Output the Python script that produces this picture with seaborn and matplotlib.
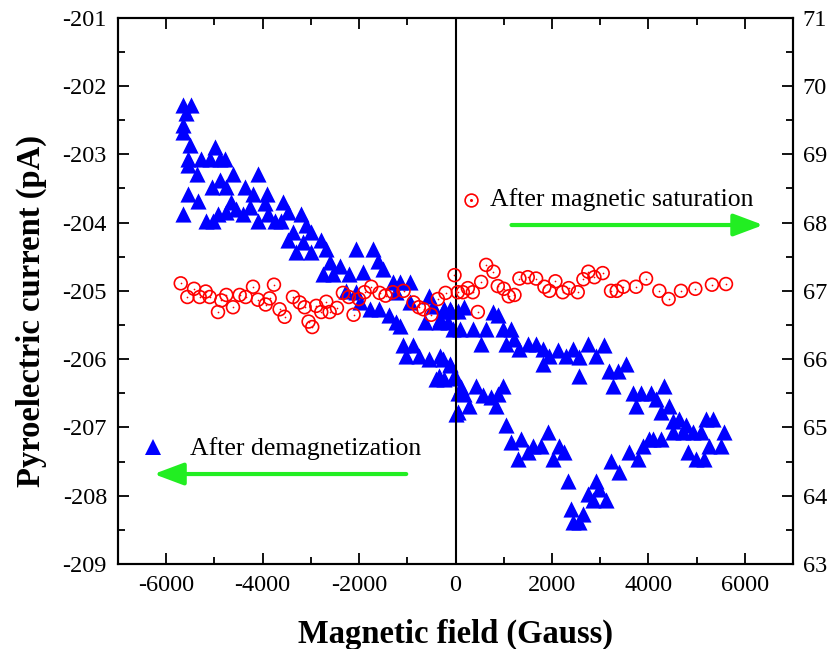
import matplotlib
matplotlib.use('Agg')
import matplotlib.pyplot as plt
import seaborn as sns
import pandas as pd
from matplotlib.ticker import MultipleLocator, FixedLocator
from matplotlib.patches import ArrowStyle

# ---- data: after demagnetization (left axis, pA) ----
blue_x = [-5650, -5480, -5600, -5650, -5650, -5510, -5550, -5550, -5370, -5270,
          -5100, -4995, -4890, -4790, -5060, -4890, -4750, -4615, -4100, -4370,
          -4200, -5550, -5340, -5650, -5170, -5030, -4930, -4750, -4650, -4550,
          -4410, -4270, -4100, -3920, -3960, -3890, -3750, -3580, -3475, -3610,
          -3475, -3370, -3300, -3200, -3100, -2990, -3160, -2990, -2780, -2680,
          -2610, -2750, -2540, -2400, -2200, -2060, -1920, -1710, -1610, -1510,
          -1300, -1160, -950, -1230, -950, -2270, -2060, -1990, -1780, -1580,
          -1370, -1160, -1230, -1090, -880, -1020, -750, -640, -540, -470,
          -330, -230, -120, -55, -540, -330, -120, -400, -230, -20,
          50, 15,
          -263, -90, 48, 186, -159, -332, 83, 359, 532, 635,
          774, 877, 981, 1154, 1050, 1223, 1326, 1499, 1672, 1810,
          1810, 1948, 2121, 2294, 2432, 2570, 2743, 2915, 3088, 2570,
          3192, 3364, 3537, 3261, 3675, 3848, 4055, 4159, 4331, 3744,
          4262, 4435, 4504, 4642, 4780, 4504, 4711, 4918, 5091, 5195,
          5333, 5574, 5264, 5505, 4815, 4987, 5160,
          -263, -124, -332, -55, 118, 428, 981, 186, 566, 739,
          877, 290, 843, 48, 1050, 1154, 1361, 1603, 1775, 1914,
          2155, 2259, 1292, 1499, 2017, 2328, 2915, 2743, 2984, 2846,
          3122, 2397, 2639, 2432, 2570, 3226, 3399, 3606, 3779, 3882,
          4020, 4262, 4090]
blue_y = [-202.28, -202.28, -202.39, -202.57, -202.68, -202.87, -203.07, -203.16, -203.29, -203.07,
          -203.07, -202.90, -203.07, -203.07, -203.48, -203.38, -203.48, -203.29, -203.29, -203.48,
          -203.58, -203.58, -203.68, -203.87, -203.97, -203.97, -203.87, -203.85, -203.70, -203.80,
          -203.87, -203.77, -203.97, -203.58, -203.72, -203.87, -203.97, -203.70, -203.85, -203.97,
          -204.26, -204.14, -204.43, -203.87, -204.04, -204.14, -204.29, -204.43, -204.26, -204.39,
          -204.58, -204.75, -204.75, -204.63, -204.75, -204.39, -204.73, -204.39, -204.56, -204.68,
          -204.87, -204.87, -204.87, -205.02, -205.17, -205.00, -205.02, -205.17, -205.26, -205.26,
          -205.36, -205.51, -205.46, -205.80, -205.80, -205.95, -205.95, -205.46, -205.07, -205.22,
          -205.41, -205.26, -205.26, -205.56, -206.00, -205.95, -206.09, -206.29, -206.29, -206.24,
          -206.49, -206.80,
          -205.29, -205.29, -205.29, -205.24, -205.46, -205.46, -205.56, -205.56, -205.78, -205.56,
          -205.31, -205.36, -205.56, -205.56, -205.78, -205.70, -205.85, -205.78, -205.78, -205.85,
          -206.07, -205.95, -205.87, -205.95, -205.85, -205.97, -205.78, -205.95, -205.80, -206.24,
          -206.17, -206.17, -206.07, -206.39, -206.49, -206.49, -206.49, -206.58, -206.39, -206.68,
          -206.78, -206.68, -206.90, -206.88, -206.97, -207.07, -207.07, -207.07, -207.07, -206.88,
          -206.88, -207.07, -207.27, -207.27, -207.36, -207.46, -207.46,
          -206.00, -206.07, -206.24, -206.27, -206.41, -206.39, -206.39, -206.51, -206.53, -206.56,
          -206.51, -206.68, -206.68, -206.78, -206.97, -207.22, -207.17, -207.27, -207.27, -207.07,
          -207.27, -207.36, -207.46, -207.36, -207.46, -207.78, -207.78, -207.97, -207.90, -208.07,
          -208.07, -208.19, -208.27, -208.39, -208.39, -207.49, -207.66, -207.36, -207.46, -207.27,
          -207.17, -207.17, -207.17]

# ---- data: after magnetic saturation (right axis) ----
red_x = [-5699, -5561, -5423, -5306, -5181, -5098, -4926, -4857, -4753, -4615,
         -4477, -4352, -4200, -4097, -3938, -3855, -3765, -3648, -3544, -3371,
         -3233, -3129, -3047, -2971, -2888, -2784, -2680, -2611, -2459, -2335,
         -2211, -2114, -2003, -1886, -1748, -1575, -1451, -1299, -1078, -870,
         -760, -663, -504, -366, -207, -21, 48,
         152, 256, 359, 463, 532, 636, 788, 877, 1002, 1105,
         1223, 1326, 1499, 1672, 1845, 1948, 2072, 2224, 2349, 2535,
         2653, 2756, 2881, 3053, 3226, 3344, 3482, 3744,
         3952, 4228, 4421, 4677, 4974, 5319, 5610]
red_y = [67.11, 66.91, 67.03, 66.91, 66.99, 66.91, 66.69, 66.86, 66.94, 66.76,
         66.94, 66.91, 67.06, 66.87, 66.80, 66.89, 67.09, 66.73, 66.62, 66.91,
         66.83, 66.76, 66.55, 66.47, 66.78, 66.69, 66.84, 66.69, 66.75, 66.97,
         66.91, 66.65, 66.88, 66.98, 67.06, 66.97, 66.93, 66.98, 67.00, 66.83,
         66.76, 66.73, 66.65, 66.88, 66.97, 67.23, 66.98,
         66.98, 67.04, 66.98, 66.69, 67.13, 67.38, 67.28, 67.07, 67.03, 66.92,
         66.94, 67.18, 67.20, 67.18, 67.06, 67.00, 67.14, 66.98, 67.04, 66.98,
         67.17, 67.28, 67.20, 67.26, 67.00, 67.00, 67.06, 67.06,
         67.18, 67.00, 66.88, 67.00, 67.03, 67.09, 67.10]

x_ticks = [-6000, -4000, -2000, 0, 2000, 4000, 6000]
left_ticks = [-209, -208, -207, -206, -205, -204, -203, -202, -201]
right_ticks = [63, 64, 65, 66, 67, 68, 69, 70, 71]
x_label = 'Magnetic field (Gauss)'
y_label = 'Pyroelectric current (pA)'
label_demag = 'After demagnetization'
label_sat = 'After magnetic saturation'

blue_df = pd.DataFrame({'field': blue_x, 'current': blue_y})
red_df = pd.DataFrame({'field': red_x, 'current': red_y})

sns.set_theme(style='ticks')
plt.rcParams['font.family'] = ['Liberation Serif', 'DejaVu Serif']
plt.rcParams['axes.unicode_minus'] = False

BLUE = '#0000FF'
RED = '#FF0000'
GREEN = '#22EE22'

fig = plt.figure(figsize=(8.3, 6.49), dpi=100)
ax = fig.add_axes([118 / 830, 1 - 564 / 649, 675 / 830, 546.3 / 649])
ax2 = ax.twinx()

sns.scatterplot(data=blue_df, x='field', y='current', ax=ax, marker='^', s=135,
                color=BLUE, linewidth=0, zorder=2, legend=False)
ax.axvline(0, color='black', lw=1.5, zorder=3)

sns.scatterplot(data=red_df, x='field', y='current', ax=ax2, marker='o', s=85,
                facecolor='none', edgecolor=RED, linewidth=1.2, zorder=4, legend=False)
sns.scatterplot(data=red_df, x='field', y='current', ax=ax2, marker='o', s=1.5,
                color=RED, linewidth=0, zorder=5, legend=False)

ax.set_xlim(-7000, 7000)
ax.set_ylim(-209, -201)
ax2.set_ylim(63, 71)

ax.xaxis.set_major_locator(FixedLocator(x_ticks))
ax.xaxis.set_minor_locator(MultipleLocator(1000))
ax.yaxis.set_major_locator(FixedLocator(left_ticks))
ax.yaxis.set_minor_locator(MultipleLocator(0.5))
ax2.yaxis.set_major_locator(FixedLocator(right_ticks))
ax2.yaxis.set_minor_locator(MultipleLocator(0.5))
ax.set_xticklabels([str(v) for v in x_ticks])
ax.set_yticklabels([str(v) for v in left_ticks])
ax2.set_yticklabels([str(v) for v in right_ticks])

for a in (ax, ax2):
    for sp in a.spines.values():
        sp.set_visible(True)
        sp.set_linewidth(1.5)
        sp.set_color('black')

ax.tick_params(axis='both', which='both', direction='in', width=1.3, colors='black',
               labelsize=17.5, top=True, right=False, pad=8)
ax.tick_params(axis='both', which='major', length=8)
ax.tick_params(axis='both', which='minor', length=5)
ax2.tick_params(axis='y', which='both', direction='in', width=1.3, colors='black',
                labelsize=17.5, left=False, right=True, pad=7)
ax2.tick_params(axis='y', which='major', length=8)
ax2.tick_params(axis='y', which='minor', length=5)

ax.set_xlabel(x_label, fontsize=23.5, fontweight='bold', color='black')
ax.set_ylabel(y_label, fontsize=23.5, fontweight='bold', color='black')
ax2.set_ylabel('')
ax.xaxis.set_label_coords(0.5, -0.1)
ax.yaxis.set_label_coords(-0.105, 0.463)

# legend-like annotations
ax2.plot([0.523], [0.666], marker='o', ms=9.2, mfc='none', mec=RED, mew=1.2,
         transform=ax.transAxes, linestyle='none', zorder=6)
ax2.plot([0.523], [0.666], marker='o', ms=1.2, color=RED,
         transform=ax.transAxes, linestyle='none', zorder=6)
ax2.text(0.551, 0.668, label_sat, transform=ax.transAxes, fontsize=18.5,
         ha='left', va='center', color='black')
ax2.plot([0.0519], [0.214], marker='^', ms=11.6, color=BLUE, mew=0,
         transform=ax.transAxes, linestyle='none', zorder=6)
ax2.text(0.1067, 0.212, label_demag, transform=ax.transAxes, fontsize=18.5,
         ha='left', va='center', color='black')

style = ArrowStyle('-|>', head_length=1.2, head_width=0.45)
ax2.annotate('', xy=(0.956, 0.6205), xytext=(0.583, 0.6205), xycoords=ax.transAxes,
             textcoords=ax.transAxes,
             arrowprops=dict(arrowstyle=style, color=GREEN, lw=3, mutation_scale=15,
                             shrinkA=0, shrinkB=0))
ax2.annotate('', xy=(0.053, 0.1647), xytext=(0.427, 0.1647), xycoords=ax.transAxes,
             textcoords=ax.transAxes,
             arrowprops=dict(arrowstyle=style, color=GREEN, lw=3, mutation_scale=15,
                             shrinkA=0, shrinkB=0))

fig.savefig('out.png', dpi=100, facecolor='white')
